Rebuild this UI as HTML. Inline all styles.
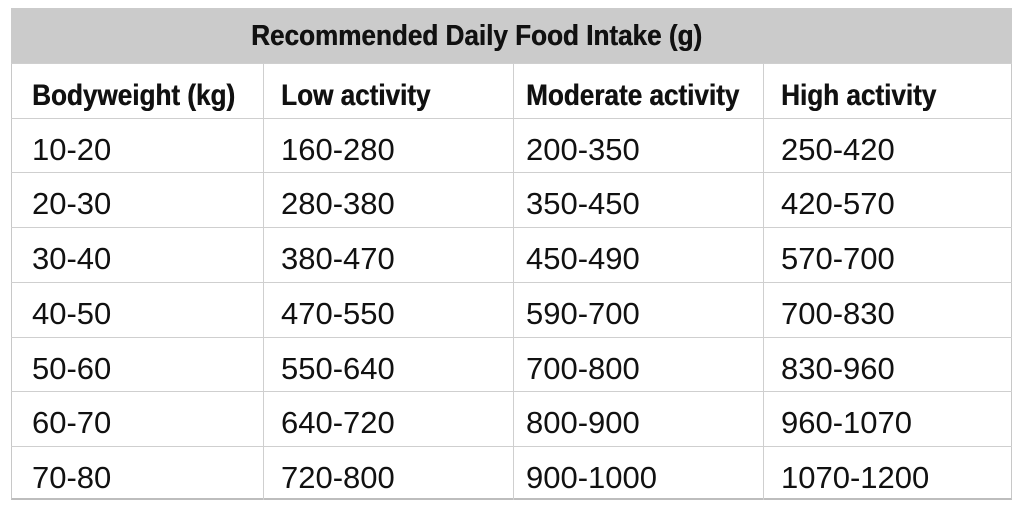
<!DOCTYPE html>
<html><head><meta charset="utf-8"><style>
body{margin:0;width:1024px;height:512px;background:#fff;position:relative;overflow:hidden;font-family:"Liberation Sans",sans-serif;}
#tbl{position:absolute;left:11px;top:8px;width:1001px;height:492px;border:1px solid #c8c8c8;box-sizing:border-box;border-bottom:2px solid #bdbdbd;}
#title{position:absolute;left:11px;top:8px;width:1001px;height:55px;background:#cbcbcb;}
.t{position:absolute;white-space:nowrap;color:#111;}
.b{font-weight:bold;font-size:30px;transform:scaleX(0.87);transform-origin:left center;text-shadow:0.5px 0 0 #111;}
.tt{font-weight:bold;font-size:29px;text-shadow:0.5px 0 0 #111;}
.r{font-size:31px;}
.hl{position:absolute;left:11px;width:1001px;height:1px;background:#cfcfcf;}
.vl{position:absolute;top:63px;height:437px;width:1px;background:#cfcfcf;}
</style></head><body>
<div id="tbl"></div>
<div id="title"></div>
<div class="t tt" style="left:251px;top:20px;transform:scaleX(0.9);transform-origin:left center;">Recommended Daily Food Intake (g)</div>
<div id="grid"></div>
<script>
const headers=["Bodyweight (kg)","Low activity","Moderate activity","High activity"];
const weights=["10-20","20-30","30-40","40-50","50-60","60-70","70-80"];
const low=["160-280","280-380","380-470","470-550","550-640","640-720","720-800"];
const moderate=["200-350","350-450","450-490","590-700","700-800","800-900","900-1000"];
const high=["250-420","420-570","570-700","700-830","830-960","960-1070","1070-1200"];
const colX=[32,281,526,781];
const lineX=[263,513,763];
const headTop=63,rowH=54.7;
const body=document.body;
lineX.forEach((x,i)=>{const d=document.createElement('div');d.className='vl';d.style.left=x+'px';


body.appendChild(d);});
for(let i=0;i<=7;i++){const d=document.createElement('div');d.className='hl';d.style.top=(headTop+i*rowH)+'px';


body.appendChild(d);}
headers.forEach((h,i)=>{const d=document.createElement('div');d.className='t b';d.textContent=h;
d.style.left=colX[i]+'px';d.style.top=(headTop+16)+'px';


body.appendChild(d);});
const cols=[weights,low,moderate,high];
cols.forEach((arr,c)=>arr.forEach((v,r)=>{const d=document.createElement('div');d.className='t r';d.textContent=v;
d.style.left=colX[c]+'px';d.style.top=(headTop+rowH*(r+1)+14)+'px';


body.appendChild(d);}));
</script>
</body></html>
